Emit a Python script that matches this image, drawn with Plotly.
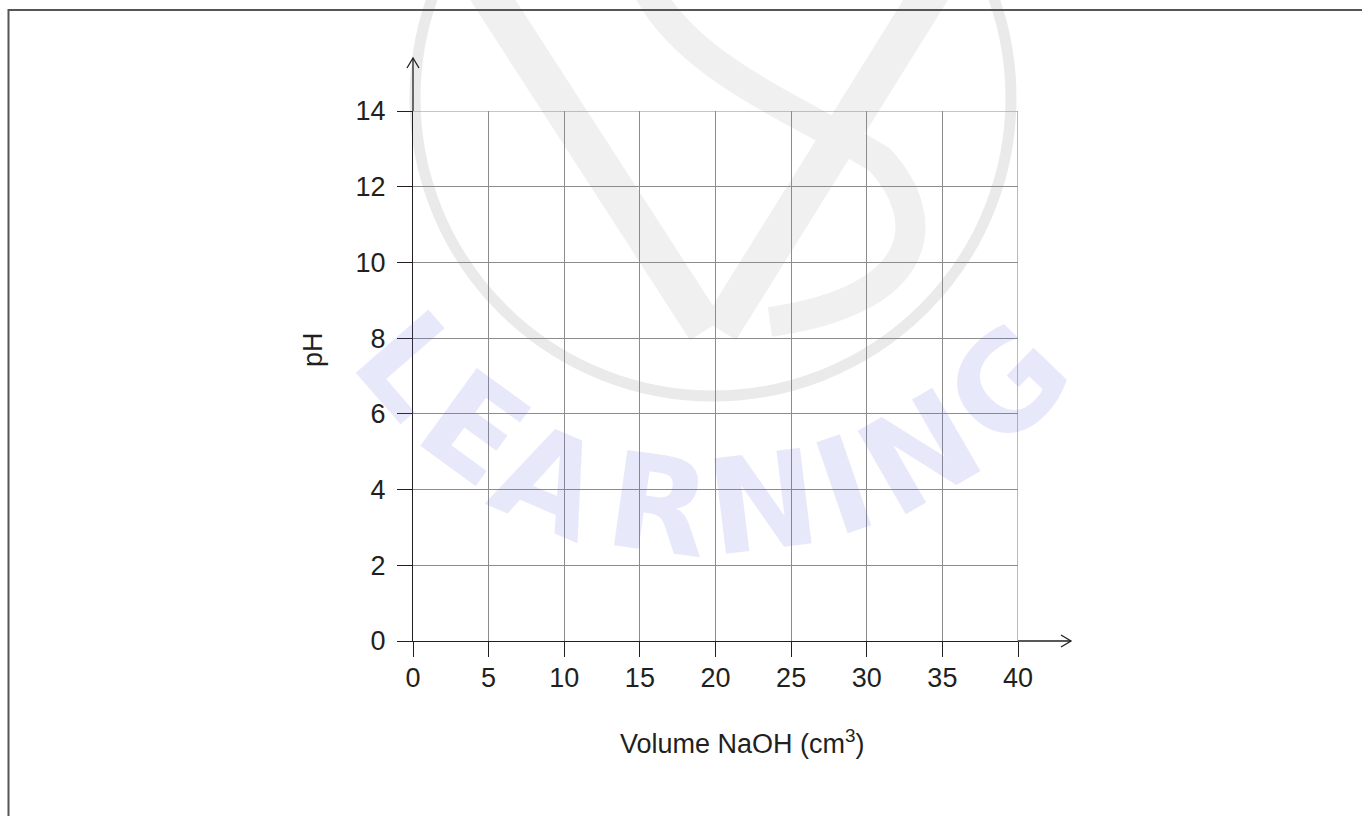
import plotly.graph_objects as go

# ---- data (empty pH titration grid) ----
x_ticks = [0, 5, 10, 15, 20, 25, 30, 35, 40]
y_ticks = [0, 2, 4, 6, 8, 10, 12, 14]
x_title = "Volume NaOH (cm<sup>3</sup>)"
y_title = "pH"
watermark_letters = ["L", "E", "A", "R", "N", "I", "N", "G"]

W, H = 1362, 816
ML, MR, MT, MB = 413, 344, 111, 175
PW, PH = W - ML - MR, H - MT - MB

def px(x):
    return (x - ML) / PW

def py(y):
    return (H - MB - y) / PH

INK = "#231f20"
GRID = "#8c8c8c"
FONT = "Liberation Sans, Arial, sans-serif"

fig = go.Figure()
fig.add_trace(go.Scatter(x=[None], y=[None], mode="lines", showlegend=False))

shapes = []
# ---- watermark (faint) ----
wm = "#eaeaea"
cx, cy, r = 713, 98, 298
shapes.append(dict(type="circle", xref="paper", yref="paper",
                   x0=px(cx - r), x1=px(cx + r), y0=py(cy + r), y1=py(cy - r),
                   line=dict(color=wm, width=11), layer="below"))
shapes.append(dict(type="line", xref="paper", yref="paper",
                   x0=px(480), y0=py(-20), x1=px(706), y1=py(330),
                   line=dict(color="#f0f0f0", width=38), layer="below"))
shapes.append(dict(type="line", xref="paper", yref="paper",
                   x0=px(938), y0=py(-20), x1=px(720), y1=py(330),
                   line=dict(color="#f0f0f0", width=38), layer="below"))
pts = [(648, -10), (690, 70), (800, 110), (880, 160), (935, 220), (925, 300),
       (850, 330), (770, 322)]
path = "M {},{} C {},{} {},{} {},{} C {},{} {},{} {},{}".format(
    px(pts[0][0]), py(pts[0][1]),
    px(pts[1][0]), py(pts[1][1]), px(pts[2][0]), py(pts[2][1]), px(pts[3][0]), py(pts[3][1]),
    px(pts[4][0]), py(pts[4][1]), px(pts[5][0]), py(pts[5][1]), px(pts[7][0]), py(pts[7][1]))
shapes.append(dict(type="path", xref="paper", yref="paper", path=path,
                   line=dict(color="#f0f0f0", width=30), layer="below"))

# ---- grid lines on the far edges (x = 40, pH = 14) ----
shapes.append(dict(type="line", xref="x", yref="y", x0=x_ticks[-1], x1=x_ticks[-1],
                   y0=y_ticks[0], y1=y_ticks[-1], line=dict(color=GRID, width=1.2)))
shapes.append(dict(type="line", xref="x", yref="y", x0=x_ticks[0], x1=x_ticks[-1],
                   y0=y_ticks[-1], y1=y_ticks[-1], line=dict(color=GRID, width=1.2)))

# ---- outer frame ----
shapes.append(dict(type="path", xref="paper", yref="paper",
                   path="M {},{} L {},{} L {},{}".format(px(8.5), py(900), px(8.5), py(10), px(1400), py(10)),
                   line=dict(color="#555555", width=2)))

# ---- axis arrows ----
shapes.append(dict(type="line", xref="paper", yref="paper",
                   x0=0, y0=1, x1=0, y1=py(58), line=dict(color=INK, width=1.3)))
shapes.append(dict(type="path", xref="paper", yref="paper",
                   path="M {},{} L {},{} L {},{}".format(px(407), py(68), px(413), py(58), px(419), py(68)),
                   line=dict(color=INK, width=1.3)))
shapes.append(dict(type="line", xref="paper", yref="paper",
                   x0=1, y0=0, x1=px(1071), y1=0, line=dict(color=INK, width=1.3)))
shapes.append(dict(type="path", xref="paper", yref="paper",
                   path="M {},{} L {},{} L {},{}".format(px(1061), py(635), px(1071), py(641), px(1061), py(647)),
                   line=dict(color=INK, width=1.3)))

annotations = []
letter_pos = [(410, 365, 49), (474, 428, 36), (549, 481, 23), (659, 505, 8),
              (763, 503, -7), (844, 486, -19), (920, 453, -30), (1008, 385, -46)]
for ch, (lx, ly, ang) in zip(watermark_letters, letter_pos):
    annotations.append(dict(text=ch, xref="paper", yref="paper", x=px(lx), y=py(ly),
                            showarrow=False, textangle=ang, xanchor="center", yanchor="middle",
                            font=dict(family="DejaVu Sans", size=132, weight="bold",
                                      color="rgba(95,105,225,0.15)")))

annotations.append(dict(text=x_title, xref="paper", yref="paper", x=px(742), y=py(742),
                        showarrow=False, xanchor="center", yanchor="middle",
                        font=dict(family=FONT, size=27, color=INK)))
annotations.append(dict(text=y_title, xref="paper", yref="paper", x=px(313), y=py(350),
                        showarrow=False, xanchor="center", yanchor="middle", textangle=-90,
                        font=dict(family=FONT, size=27, color=INK)))

fig.update_layout(
    width=W, height=H,
    margin=dict(l=ML, r=MR, t=MT, b=MB, pad=0),
    paper_bgcolor="white", plot_bgcolor="rgba(0,0,0,0)",
    showlegend=False,
    shapes=shapes, annotations=annotations,
    xaxis=dict(range=[x_ticks[0], x_ticks[-1]], tickvals=x_ticks, ticktext=[str(v) for v in x_ticks],
               showgrid=True, gridcolor=GRID, gridwidth=1.2, zeroline=False,
               showline=True, linecolor=INK, linewidth=1.3,
               ticks="outside", ticklen=15, tickwidth=1.3, tickcolor=INK,
               tickfont=dict(family=FONT, size=27, color=INK), ticklabelstandoff=-3,
               fixedrange=True),
    yaxis=dict(range=[y_ticks[0], y_ticks[-1]], tickvals=y_ticks, ticktext=[str(v) for v in y_ticks],
               showgrid=True, gridcolor=GRID, gridwidth=1.2, zeroline=False,
               showline=True, linecolor=INK, linewidth=1.3,
               ticks="outside", ticklen=15, tickwidth=1.3, tickcolor=INK,
               tickfont=dict(family=FONT, size=27, color=INK), ticklabelstandoff=6,
               fixedrange=True),
)

fig.write_html("out.html", config={"displayModeBar": False},
               post_script="document.body.style.margin='0px';document.body.style.overflow='hidden';")
